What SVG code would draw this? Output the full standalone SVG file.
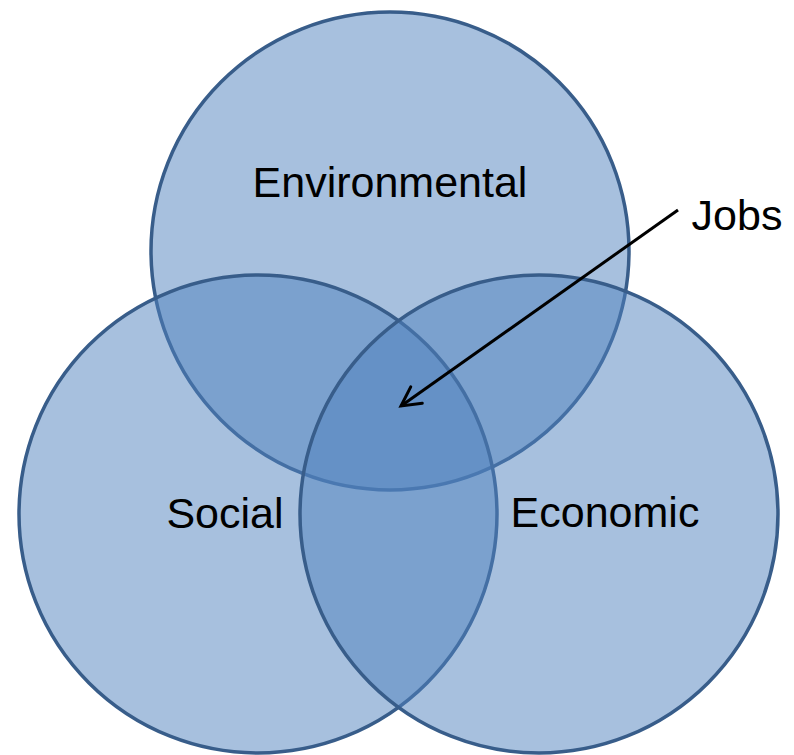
<svg xmlns="http://www.w3.org/2000/svg" width="794" height="755" viewBox="0 0 794 755">
<style>
.set{fill:#4F81BD;fill-opacity:0.5;stroke:#385D8A;stroke-width:3.5}
.lbl{font-family:"Liberation Sans",Arial,sans-serif;font-size:43px;fill:#000;text-anchor:middle}
.conn{stroke:#000;stroke-width:3;fill:none}
</style>
<defs>
<marker id="open" markerUnits="userSpaceOnUse" markerWidth="40" markerHeight="40" viewBox="-30 -20 40 40" refX="0" refY="0" orient="auto">
<path d="M-19,-10 L0,0 L-19,10" fill="none" stroke="#000" stroke-width="3" stroke-linecap="round" stroke-linejoin="miter"/>
</marker>
</defs>
<rect width="794" height="755" fill="#fff"/>
<g id="environmental">
<circle class="set" cx="390" cy="251" r="239"/>
</g>
<g id="social">
<circle class="set" cx="258" cy="514" r="239"/>
</g>
<g id="economic">
<circle class="set" cx="539" cy="514" r="239"/>
</g>
<g id="labels">
<text class="lbl" x="390" y="197">Environmental</text>
<text class="lbl" x="225" y="528">Social</text>
<text class="lbl" x="605" y="527">Economic</text>
</g>
<g id="jobs">
<text class="lbl" x="737" y="230">Jobs</text>
</g>
<g id="connectors">
<line class="conn" x1="678" y1="210" x2="401" y2="406" marker-end="url(#open)"/>
</g>
</svg>
